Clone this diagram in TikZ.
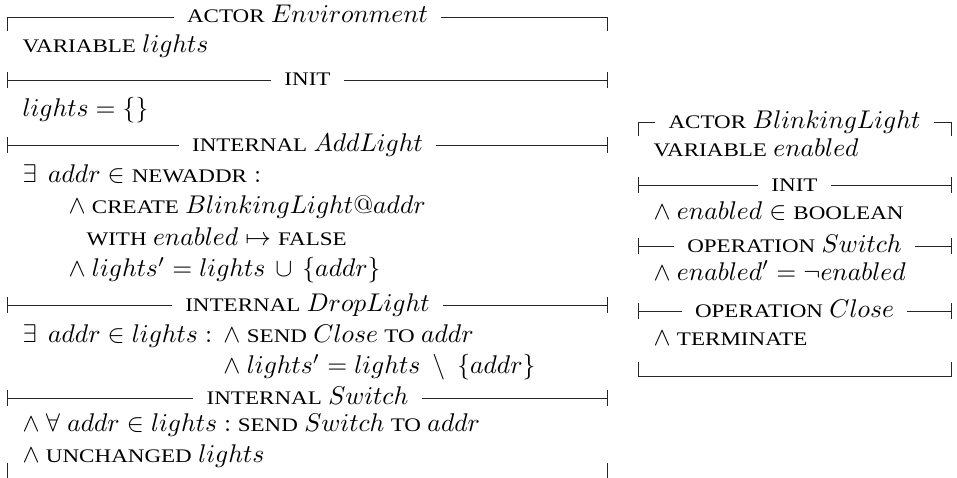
\documentclass[tikz,border=0pt]{standalone}
\usepackage[no-math]{fontspec}
\setmainfont{Liberation Serif}
\newfontfamily\kwfont[FakeStretch=1.2]{Liberation Serif}
\usetikzlibrary{calc}

% keywords in small capitals
\newcommand\kw[1]{\mbox{\kwfont\fontsize{7.5}{8}\selectfont #1}}

\tikzset{
  rule/.style={line width=0.36pt, draw=black!85},
  ttl/.style={anchor=base, inner xsep=5pt, inner ysep=0pt},
  txt/.style={anchor=base west, inner sep=0pt},
}

% a horizontal separator with a centred title and end ticks
% #1 name, #2 left x, #3 right x, #4 y, #5 title
\newcommand\hsep[5]{%
  \coordinate (#1-l) at (#2,#4);
  \coordinate (#1-r) at (#3,#4);
  \node[ttl] (#1) at ($(#1-l)!0.5!(#1-r)+(0,6)$) {#5};
  \draw[rule] (#1-l) -- (#1-l -| #1.west);
  \draw[rule] (#1-r -| #1.east) -- (#1-r);
  \draw[rule] ($(#1-l)+(0,-8)$) -- ($(#1-l)+(0,8)$);
  \draw[rule] ($(#1-r)+(0,-8)$) -- ($(#1-r)+(0,8)$);
}
% the top edge of a module box: title between two corners
\newcommand\htop[5]{%
  \coordinate (#1-l) at (#2,#4);
  \coordinate (#1-r) at (#3,#4);
  \node[ttl] (#1) at ($(#1-l)!0.5!(#1-r)+(0,6)$) {#5};
  \draw[rule] ($(#1-l)+(0,14)$) -- (#1-l) -- (#1-l -| #1.west);
  \draw[rule] (#1-r -| #1.east) -- (#1-r) -- ($(#1-r)+(0,14)$);
}

\begin{document}
\begin{tikzpicture}[x=0.390625pt, y=-0.390625pt]
\useasboundingbox (0,0) rectangle (957,478);

% ---------------- actor Environment ----------------
\htop{env}{7.5}{607.5}{17}{\kw{ACTOR} $Environment$}
\node[txt] (envvar) at (22,53) {\kw{VARIABLE} $lights$};

\hsep{envinit}{7.5}{607.5}{80}{\kw{INIT}}
\node[txt] (envinitb) at (22,117) {$lights = \{\}$};

\hsep{add}{7.5}{607.5}{145}{\kw{INTERNAL} $AddLight$}
\node[txt] (add1) at (22,182) {$\exists\;\,addr \in \hbox{\kw{NEWADDR}} :$};
\node[txt] (add2) at (68,213.5) {$\land$ \kw{CREATE} $BlinkingLight@addr$};
\node[txt] (add3) at (86,245) {\kw{WITH} $enabled \mapsto \hbox{\kw{FALSE}}$};
\node[txt] (add4) at (68,276.5) {$\land$ $lights' = lights\, \cup\, \{addr\}$};

\hsep{drop}{7.5}{607.5}{305}{\kw{INTERNAL} $DropLight$}
\node[txt] (drop1) at (22,342) {$\exists\;\,addr \in lights :$};
\node[txt] (drop2) at ($(drop1.base east)+(4pt,0)$) {$\land$ \kw{SEND} $Close$ \kw{TO} $addr$};
\node[txt] (drop3) at ($(drop2.base west)+(0,31.5)$) {$\land$ $lights' = lights\ \setminus\ \{addr\}$};

\hsep{sw}{7.5}{607.5}{398}{\kw{INTERNAL} $Switch$}
\node[txt] (sw1) at (22,431) {$\land$ $\forall\;addr \in lights :$ \kw{SEND} $Switch$ \kw{TO} $addr$};
\node[txt] (sw2) at (22,462) {$\land$ \kw{UNCHANGED} $lights$};

% lower corners of the box; its bottom edge lies just below the page
\coordinate (envbl) at (7.5,479.5);
\coordinate (envbr) at (607.5,479.5);
\draw[rule] ($(envbl)+(0,-17)$) -- (envbl) -- (envbr) -- ($(envbr)+(0,-17)$);

% ---------------- actor BlinkingLight ----------------
\htop{bl}{638}{951}{122}{\kw{ACTOR} $BlinkingLight$}
\node[txt] (blvar) at (653,156) {\kw{VARIABLE} $enabled$};

\hsep{blinit}{638}{951}{185}{\kw{INIT}}
\node[txt] (blinitb) at (653,219) {$\land$ $enabled \in \hbox{\kw{BOOLEAN}}$};

\hsep{blsw}{638}{951}{246}{\kw{OPERATION} $Switch$}
\node[txt] (blswb) at (653,280) {$\land$ $enabled' = \neg enabled$};

\hsep{blcl}{638}{951}{311}{\kw{OPERATION} $Close$}
\node[txt] (blclb) at (653,345) {$\land$ \kw{TERMINATE}};

\coordinate (blbl) at (638,376);
\coordinate (blbr) at (951,376);
\draw[rule] ($(blbl)+(0,-14)$) -- (blbl) -- (blbr) -- ($(blbr)+(0,-14)$);
\end{tikzpicture}
\end{document}
